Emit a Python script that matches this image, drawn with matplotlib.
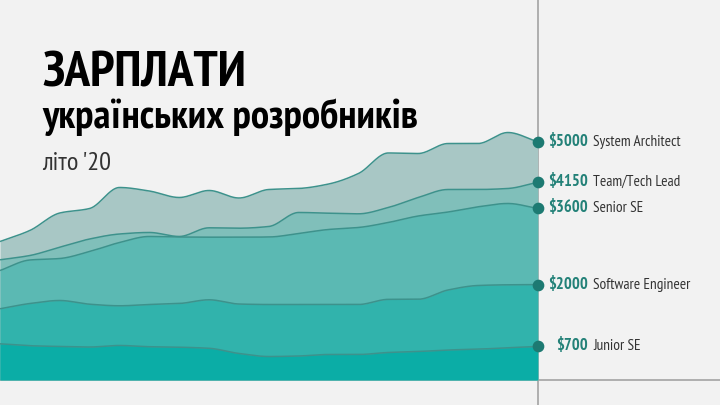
import numpy as np
import matplotlib
matplotlib.use("Agg")
import matplotlib.pyplot as plt
from matplotlib import font_manager as fm

# ---------------- data ----------------
periods = list(range(19))
system_architect = [2905, 3137, 3504, 3599, 4040, 3966, 3830, 3977, 3819, 3998,
                    4019, 4113, 4334, 4765, 4754, 4964, 4964, 5195, 5000]
team_lead = [2521, 2611, 2786, 2958, 3063, 3095, 3011, 3193, 3185, 3221,
             3515, 3500, 3487, 3620, 3830, 3998, 3998, 4019, 4150]
senior_se = [2296, 2517, 2548, 2695, 2884, 3011, 3000, 2996, 2996, 3000,
             3074, 3158, 3200, 3305, 3441, 3525, 3634, 3704, 3600]
software_engineer = [1492, 1603, 1666, 1588, 1555, 1582, 1603, 1681, 1592, 1582,
                     1582, 1582, 1582, 1690, 1692, 1887, 1981, 1996, 2000]
junior_se = [756, 716, 700, 689, 721, 695, 685, 662, 553, 489,
             500, 532, 532, 574, 595, 626, 643, 674, 700]

series_names = ["System Architect", "Team/Tech Lead", "Senior SE",
                "Software Engineer", "Junior SE"]
series_values = [system_architect, team_lead, senior_se, software_engineer, junior_se]
value_labels = ["$5000", "$4150", "$3600", "$2000", "$700"]

title_line1 = "ЗАРПЛАТИ"
title_line2 = "українських розробників"
title_line3 = "літо '20"

# ---------------- style ----------------
fills = ["#a8c7c5", "#80bfba", "#5bb9b3", "#31b3ac", "#0bada6"]
edge = "#3d928c"
dot_color = "#1d7a72"
value_color = "#238178"
name_color = "#333333"
bg = "#f2f2f2"

names = {f.name for f in fm.fontManager.ttflist}
prefs = ["PT Sans Narrow", "Fira Sans Condensed", "Roboto Condensed"]
family = next((p for p in prefs if p in names), "DejaVu Sans")
fam = [family, "DejaVu Sans"]


def monotone(x, y, n=40):
    x = np.asarray(x, float)
    y = np.asarray(y, float)
    h = np.diff(x)
    d = np.diff(y) / h
    m = np.zeros_like(y)
    m[0], m[-1] = d[0], d[-1]
    for i in range(1, len(y) - 1):
        if d[i - 1] * d[i] <= 0:
            m[i] = 0
        else:
            w1 = 2 * h[i] + h[i - 1]
            w2 = h[i] + 2 * h[i - 1]
            m[i] = (w1 + w2) / (w1 / d[i - 1] + w2 / d[i])
    xs, ys = [], []
    for i in range(len(x) - 1):
        t = np.linspace(0, 1, n, endpoint=False)
        h00 = 2 * t**3 - 3 * t**2 + 1
        h10 = t**3 - 2 * t**2 + t
        h01 = -2 * t**3 + 3 * t**2
        h11 = t**3 - t**2
        xs.append(x[i] + t * h[i])
        ys.append(h00 * y[i] + h10 * h[i] * m[i] + h01 * y[i + 1] + h11 * h[i] * m[i + 1])
    xs.append([x[-1]])
    ys.append([y[-1]])
    return np.concatenate(xs), np.concatenate(ys)


W, H = 720, 405
fig = plt.figure(figsize=(W / 100, H / 100), dpi=100)
fig.patch.set_facecolor(bg)

base_px = 379.8
right_px = 537.7
px_per_usd = 0.0476
ax = fig.add_axes([0, (H - base_px) / H, right_px / W, base_px / H])
ax.set_zorder(3)
ax.set_facecolor("none")
ax.set_xlim(periods[0], periods[-1])
ax.set_ylim(0, base_px / px_per_usd)
ax.axis("off")

for vals, col in zip(series_values, fills):
    xs, ys = monotone(periods, vals)
    ax.fill_between(xs, 0, ys, color=col, lw=0, zorder=2)
    ax.plot(xs, ys, color=edge, lw=1.1, zorder=3, solid_capstyle="butt")

# baseline & vertical line
fig.add_artist(plt.Line2D([0, 1], [(H - base_px - 0.5) / H] * 2, color="#a9a9a9", lw=1.3, zorder=1))
fig.add_artist(plt.Line2D([right_px / W] * 2, [0, 1], color="#a9a9a9", lw=1.3, zorder=1))

for vals, lab, nm in zip(series_values, value_labels, series_names):
    v = vals[-1]
    ax.plot([periods[-1]], [v], "o", ms=7.4, color=dot_color, zorder=5, clip_on=False)
    yf = (H - base_px + v * px_per_usd) / H
    fig.text(588 / W, yf, lab, ha="right", va="center", fontsize=12,
             fontweight="bold", color=value_color, family=fam)
    fig.text(593 / W, yf, nm, ha="left", va="center", fontsize=11,
             color=name_color, family=fam)

fig.text(42 / W, 1 - 86.7 / H, title_line1, ha="left", va="baseline", fontsize=37,
         fontweight="bold", color="black", family=fam)
fig.text(42 / W, 1 - 127.5 / H, title_line2, ha="left", va="baseline", fontsize=29.5,
         fontweight="bold", color="black", family=fam)
fig.text(42 / W, 1 - 170 / H, title_line3, ha="left", va="baseline", fontsize=19,
         color="#333333", family=fam)

fig.savefig("out.png", dpi=100, facecolor=bg)
